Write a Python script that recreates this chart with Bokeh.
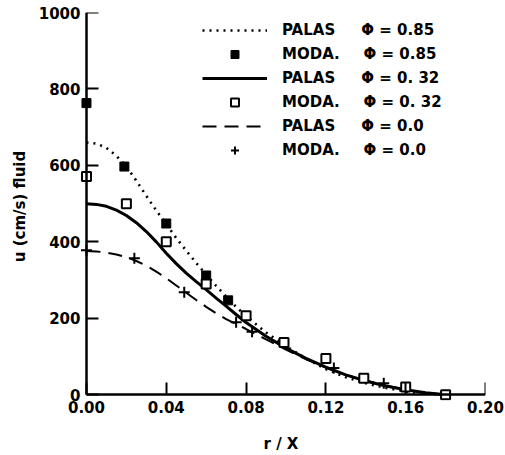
from bokeh.plotting import figure
from bokeh.models import Range1d, FixedTicker, Legend, LegendItem, LinearAxis
from bokeh.embed import file_html
from bokeh.resources import INLINE

# ---- data ----
r_curve = [0.000, 0.005, 0.010, 0.015, 0.020, 0.025, 0.030, 0.035, 0.040, 0.045,
           0.050, 0.055, 0.060, 0.065, 0.070, 0.075, 0.080, 0.090, 0.100, 0.110,
           0.120, 0.130, 0.140, 0.150, 0.160, 0.170, 0.180]
u_palas_085 = [660, 657, 646, 625, 597, 560, 520, 482, 446, 410,
               377, 345, 314, 285, 257, 230, 206, 163, 127, 95,
               67, 46, 30, 18, 9, 3, 0]
u_palas_032 = [500, 498, 493, 483, 469, 450, 427, 400, 370, 343,
               318, 296, 275, 253, 232, 210, 189, 153, 122, 95,
               72, 52, 36, 23, 13, 5, 0]
u_palas_000 = [376, 375, 372, 367, 360, 350, 338, 322, 305, 286,
               267, 248, 230, 213, 198, 185, 172, 145, 118, 93,
               71, 52, 37, 24, 13, 5, 0]

r_moda_085 = [0.000, 0.019, 0.040, 0.060, 0.071]
u_moda_085 = [763, 597, 448, 312, 247]
r_moda_032 = [0.000, 0.020, 0.040, 0.060, 0.080, 0.099, 0.120, 0.139, 0.160, 0.180]
u_moda_032 = [571, 500, 400, 290, 207, 137, 95, 43, 20, 0]
r_moda_000 = [0.000, 0.024, 0.049, 0.075, 0.083, 0.124, 0.149]
u_moda_000 = [378, 357, 268, 190, 165, 70, 30]

x_ticks = [0.00, 0.04, 0.08, 0.12, 0.16, 0.20]
x_tick_labels = ["0.00", "0.04", "0.08", "0.12", "0.16", "0.20"]
y_ticks = [0, 200, 400, 600, 800, 1000]
y_tick_labels = ["0", "200", "400", "600", "800", "1000"]

NB = "\u00a0"
legend_labels = [
    "PALAS" + NB * 5 + "\u03a6 = 0.85",
    "MODA." + NB * 4 + "\u2009\u03a6 = 0.85",
    "PALAS" + NB * 5 + "\u03a6 = 0. 32",
    "MODA." + NB * 4 + "\u2009\u03a6 = 0. 32",
    "PALAS" + NB * 5 + "\u03a6 = 0.0",
    "MODA." + NB * 4 + "\u2009\u03a6 = 0.0",
]

FONT = "DejaVu Sans"

p = figure(width=505, height=455, output_backend="svg", toolbar_location=None,
           x_range=Range1d(-0.005, 0.2), y_range=Range1d(-15, 1000),
           min_border_left=76, min_border_right=20, min_border_top=12,
           min_border_bottom=55)
p.outline_line_color = None
p.xgrid.visible = False
p.ygrid.visible = False
p.background_fill_color = "white"
p.border_fill_color = "white"

# curves
l85 = p.line(r_curve, u_palas_085, line_color="black", line_width=2.6, line_dash="2 5")
l32 = p.line(r_curve, u_palas_032, line_color="black", line_width=3)
l00 = p.line(r_curve, u_palas_000, line_color="black", line_width=2, line_dash="14 8")

# markers
m85 = p.scatter(r_moda_085, u_moda_085, marker="square", size=9,
                fill_color="black", line_color="black", line_width=1)
m32 = p.scatter(r_moda_032, u_moda_032, marker="square", size=9,
                fill_color="white", line_color="black", line_width=2)
m00 = p.scatter(r_moda_000, u_moda_000, marker="cross", size=11,
                line_color="black", line_width=2)

# default side axes: carry only the tick labels and axis titles
for ax in (p.xaxis[0], p.yaxis[0]):
    ax.axis_line_color = None
    ax.major_tick_line_color = None
    ax.minor_tick_line_color = None
    ax.major_tick_in = 0
    ax.major_tick_out = 0
    ax.minor_tick_in = 0
    ax.minor_tick_out = 0
    ax.major_label_text_font = FONT
    ax.major_label_text_font_style = "bold"
    ax.major_label_text_font_size = "15px"
    ax.major_label_text_color = "black"
    ax.axis_label_text_font = FONT
    ax.axis_label_text_font_style = "bold"
    ax.axis_label_text_font_size = "15px"
    ax.axis_label_text_color = "black"

p.xaxis[0].ticker = FixedTicker(ticks=x_ticks)
p.xaxis[0].major_label_overrides = dict(zip(x_ticks, x_tick_labels))
p.yaxis[0].ticker = FixedTicker(ticks=y_ticks)
p.yaxis[0].major_label_overrides = dict(zip(y_ticks, y_tick_labels))
p.xaxis[0].major_label_standoff = 0
p.yaxis[0].major_label_standoff = -4
p.xaxis[0].axis_label = "r / X"
p.yaxis[0].axis_label = "u (cm/s) fluid"
p.xaxis[0].axis_label_standoff = 19
p.yaxis[0].axis_label_standoff = 7

# axis lines and inward ticks, drawn at the data origin
ax_x = LinearAxis(fixed_location=0, bounds=(x_ticks[0], x_ticks[-1]),
                  ticker=FixedTicker(ticks=x_ticks))
ax_y = LinearAxis(fixed_location=0, bounds=(y_ticks[0], y_ticks[-1]),
                  ticker=FixedTicker(ticks=y_ticks))
for ax in (ax_x, ax_y):
    ax.axis_line_width = 2.5
    ax.axis_line_color = "black"
    ax.major_tick_line_width = 2
    ax.major_tick_line_color = "black"
    ax.major_tick_in = 12
    ax.major_tick_out = 0
    ax.minor_tick_line_color = None
    ax.major_label_text_alpha = 0
    ax.major_label_text_font_size = "1px"
p.add_layout(ax_x, "below")
p.add_layout(ax_y, "left")

legend = Legend(
    items=[LegendItem(label=legend_labels[0], renderers=[l85]),
           LegendItem(label=legend_labels[1], renderers=[m85]),
           LegendItem(label=legend_labels[2], renderers=[l32]),
           LegendItem(label=legend_labels[3], renderers=[m32]),
           LegendItem(label=legend_labels[4], renderers=[l00]),
           LegendItem(label=legend_labels[5], renderers=[m00])],
    location=(126, 240), orientation="vertical",
    glyph_width=65, glyph_height=20, label_height=20, spacing=4,
    label_standoff=15, padding=0, margin=0,
    border_line_color=None, background_fill_alpha=0,
    label_text_font=FONT, label_text_font_style="bold",
    label_text_font_size="15px", label_text_color="black",
)
p.add_layout(legend)

open("out.html", "w").write(file_html(p, INLINE))
